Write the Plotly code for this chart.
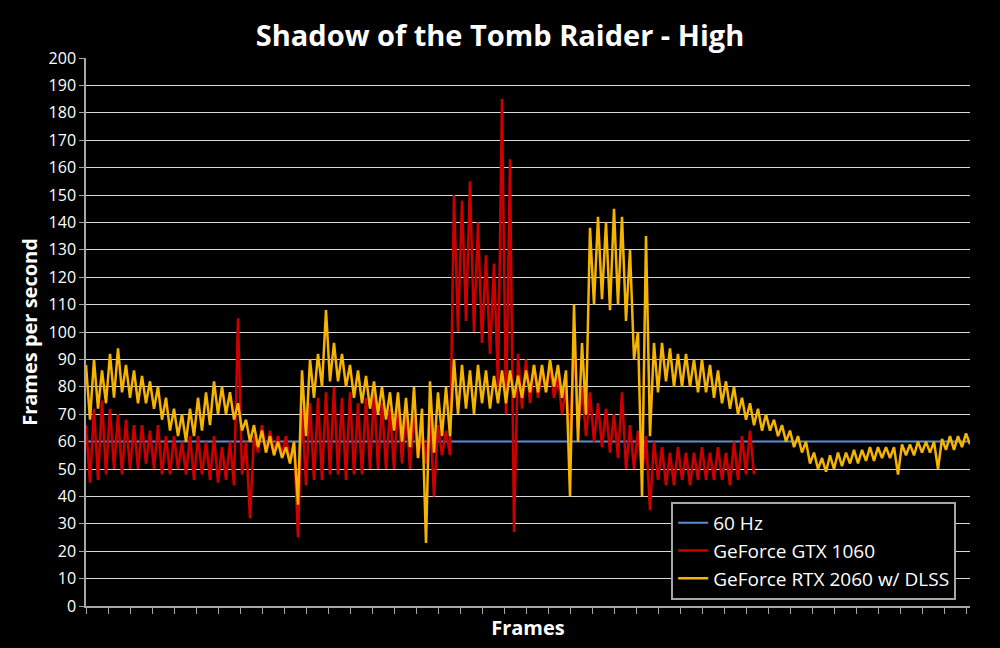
import plotly.graph_objects as go

# Frame rate readings (high/low pairs)
rtx_2060_dlss = [
    88, 68, 90, 72, 86, 74, 92, 76, 94, 78, 88, 76, 86, 74, 84, 74, 82, 72, 80, 68,
    76, 64, 72, 62, 70, 60, 72, 62, 76, 64, 78, 66, 82, 70, 80, 70, 78, 68, 74, 64,
    68, 60, 66, 58, 64, 56, 62, 55, 60, 54, 58, 52, 60, 37, 86, 62, 90, 76, 92, 80,
    108, 82, 96, 82, 92, 80, 88, 76, 86, 74, 84, 72, 82, 70, 80, 68, 78, 64, 78, 60,
    76, 58, 80, 54, 72, 23, 82, 56, 78, 62, 80, 62, 90, 70, 88, 72, 86, 70, 88, 74,
    86, 72, 84, 74, 86, 74, 86, 76, 84, 76, 86, 78, 88, 78, 88, 78, 90, 80, 88, 76,
    86, 40, 110, 60, 96, 70, 138, 110, 142, 112, 140, 108, 145, 110, 142, 104, 130, 90, 100, 40,
    135, 62, 96, 78, 96, 82, 94, 80, 92, 80, 92, 80, 90, 78, 90, 78, 88, 76, 86, 74,
    82, 72, 80, 70, 76, 68, 74, 66, 72, 64, 70, 64, 68, 62, 66, 60, 64, 58, 62, 56,
    60, 52, 56, 50, 54, 49, 55, 50, 56, 51, 56, 52, 57, 52, 57, 53, 58, 53, 58, 54,
    58, 54, 58, 48, 59, 55, 59, 55, 60, 56, 60, 56, 60, 50, 61, 57, 62, 57, 62, 58,
    63, 59,
]

gtx_1060 = [
    66, 45, 72, 46, 75, 48, 72, 50, 70, 48, 68, 50, 66, 50, 66, 52, 64, 50, 66, 48,
    62, 48, 62, 50, 60, 48, 62, 46, 62, 48, 60, 46, 62, 45, 58, 46, 60, 44, 105, 48,
    60, 32, 62, 56, 66, 56, 64, 56, 62, 55, 62, 52, 60, 25, 72, 44, 74, 46, 76, 46,
    78, 48, 80, 48, 76, 46, 78, 48, 74, 48, 76, 50, 78, 50, 74, 50, 72, 50, 74, 52,
    72, 50, 70, 54, 64, 52, 70, 40, 66, 55, 64, 55, 150, 100, 148, 104, 155, 100, 140, 96,
    128, 92, 125, 80, 185, 70, 163, 27, 92, 72, 90, 74, 88, 76, 86, 78, 88, 76, 84, 70,
    80, 58, 100, 64, 80, 62, 78, 60, 74, 58, 72, 56, 70, 54, 78, 50, 66, 50, 64, 48,
    62, 35, 60, 46, 58, 44, 56, 44, 58, 46, 56, 44, 56, 46, 58, 46, 56, 46, 58, 46,
    56, 44, 60, 46, 62, 48, 64, 48,
]

refresh_60hz = [60, 60]

fig = go.Figure()

fig.add_trace(go.Scatter(
    x=[0, len(rtx_2060_dlss) - 1], y=refresh_60hz, mode='lines',
    name='60 Hz', line=dict(color='#5b8fd0', width=2)))

fig.add_trace(go.Scatter(
    y=gtx_1060, mode='lines', name='GeForce GTX 1060',
    line=dict(color='#cc0000', width=2.5)))

fig.add_trace(go.Scatter(
    y=rtx_2060_dlss, mode='lines', name='GeForce RTX 2060 w/ DLSS',
    line=dict(color='#f5b400', width=2.5)))

fig.update_layout(
    width=1000, height=648,
    paper_bgcolor='black', plot_bgcolor='black',
    font=dict(family='Open Sans', color='white'),
    title=dict(text='<b>Shadow of the Tomb Raider - High</b>', x=0.5, y=0.96,
               xanchor='center', font=dict(size=29, color='white')),
    margin=dict(l=86, r=30, t=58, b=42),
    showlegend=True,
    legend=dict(x=0.662, y=0.19, xanchor='left', yanchor='top',
                bgcolor='black', bordercolor='#a6a6a6', borderwidth=2,
                font=dict(size=19, color='white'), tracegroupgap=0),
)

fig.update_xaxes(
    range=[0, len(rtx_2060_dlss) - 1], showgrid=False, zeroline=False,
    showticklabels=False, ticks='outside', ticklen=6, tickcolor='#a6a6a6',
    dtick=5.5, tick0=0, showline=True, linecolor='#a6a6a6', linewidth=1.5,
    automargin=False,
    title=dict(text='<b>Frames</b>', font=dict(size=20, color='white'), standoff=8),
)

fig.update_yaxes(
    range=[0, 200], dtick=10, showgrid=True, gridcolor='#d9d9d9', gridwidth=1,
    zeroline=False, showline=True, linecolor='#a6a6a6', linewidth=1.5,
    ticks='outside', ticklen=5, tickcolor='#a6a6a6', automargin=False,
    tickfont=dict(size=16, color='white'),
    title=dict(text='<b>Frames per second</b>', font=dict(size=20, color='white'), standoff=6),
)

fig.write_html("out.html", config={'displayModeBar': False},
               post_script="document.body.style.margin='0';document.body.style.background='black';")
